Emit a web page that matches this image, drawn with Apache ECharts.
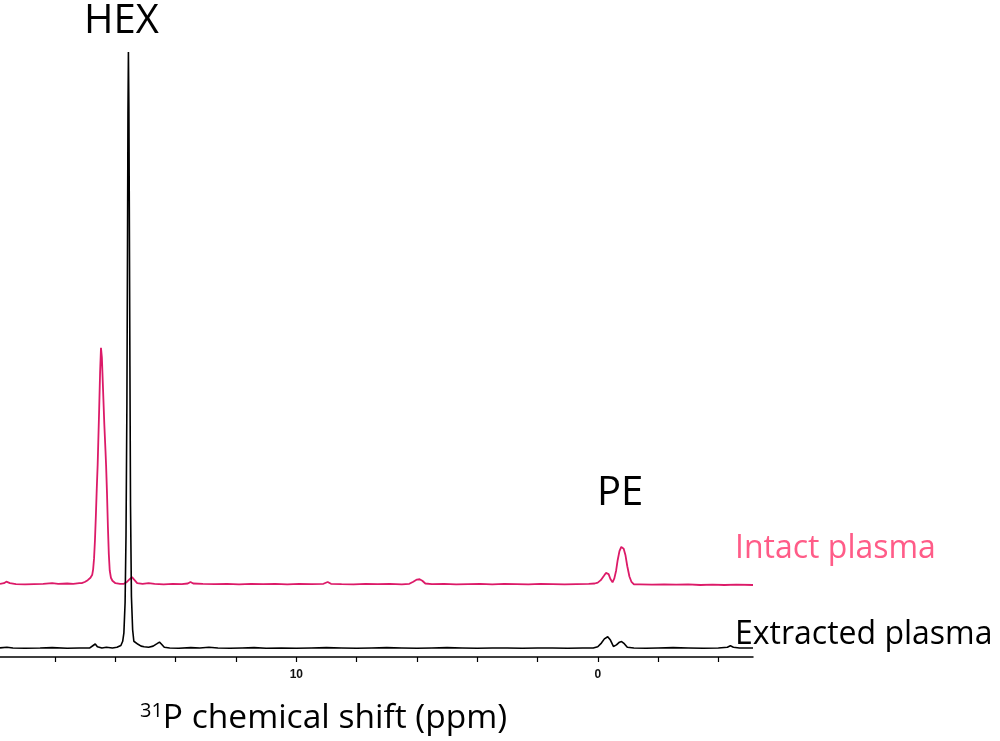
<!DOCTYPE html>
<html>
<head>
<meta charset="utf-8">
<script src="https://cdn.jsdelivr.net/npm/echarts@6/dist/echarts.min.js"></script>
<style>
html,body{margin:0;padding:0;background:#fff;}
#chart{width:1000px;height:741px;}
</style>
</head>
<body>
<div id="chart"></div>
<script>
// x = 31P chemical shift (ppm), y = intensity (arbitrary units, stacked display offset included)
const extractedPlasma = [
  [19.83,1.5],[19.6,1.6],[19.4,1.5],[19.0,1.45],[18.5,1.5],[18.1,1.55],[17.6,1.45],[17.2,1.5],
  [16.85,1.5],[16.74,1.9],[16.67,2.15],[16.6,1.7],[16.45,1.5],[16.3,1.6],[16.1,1.5],[15.95,1.6],
  [15.82,1.9],[15.76,2.6],[15.72,4],[15.68,9],[15.65,20],[15.62,42],[15.6,68],[15.585,90],
  [15.57,100],[15.555,91],[15.54,74],[15.52,48],[15.5,25],[15.47,10],[15.43,4.5],[15.39,2.6],
  [15.33,2.3],[15.25,2.1],[15.15,1.8],[15.05,1.7],[14.9,1.6],[14.75,1.8],[14.62,2.2],[14.54,2.45],
  [14.47,2.1],[14.38,1.6],[14.2,1.5],[13.9,1.45],[13.5,1.55],[13.2,1.5],[12.9,1.6],[12.6,1.5],
  [12.2,1.45],[11.8,1.5],[11.4,1.55],[11.0,1.45],[10.5,1.5],[10.0,1.45],[9.5,1.5],[9.0,1.55],
  [8.5,1.5],[8.0,1.45],[7.5,1.5],[7.0,1.55],[6.5,1.5],[6.0,1.45],[5.5,1.5],[5.0,1.55],
  [4.5,1.5],[4.0,1.45],[3.5,1.5],[3.0,1.5],[2.5,1.45],[2.0,1.5],[1.5,1.5],[1.0,1.45],
  [0.5,1.5],[0.15,1.5],[0.0,1.7],[-0.12,2.3],[-0.22,3.0],[-0.33,3.35],[-0.42,2.8],[-0.52,1.75],
  [-0.62,2.0],[-0.72,2.45],[-0.79,2.55],[-0.88,2.2],[-0.98,1.6],[-1.2,1.5],[-1.6,1.45],[-2.0,1.5],
  [-2.5,1.55],[-3.0,1.5],[-3.5,1.45],[-4.0,1.5],[-4.3,1.6],[-4.4,1.85],[-4.5,1.6],[-4.7,1.5],[-5.15,1.5]
];
const intactPlasma = [
  [19.83,12.1],[19.7,12.2],[19.62,12.45],[19.5,12.2],[19.3,12.05],[19.0,12.0],[18.7,12.05],[18.4,12.1],
  [18.1,12.2],[17.9,12.1],[17.6,12.15],[17.4,12.1],[17.2,12.2],[17.12,12.2],[17.02,12.4],[16.92,12.7],
  [16.83,13.1],[16.77,13.6],[16.74,14.5],[16.71,16.3],[16.68,19.3],[16.65,23.3],[16.62,27.8],[16.59,31.8],
  [16.57,35.5],[16.54,41],[16.51,47],[16.48,51.1],[16.45,49.5],[16.41,44],[16.37,38.5],[16.33,34],
  [16.31,31.6],[16.28,27],[16.25,21.5],[16.22,17],[16.19,14.3],[16.15,13.1],[16.1,12.6],[16.0,12.2],
  [15.85,12.1],[15.72,12.1],[15.62,12.4],[15.52,12.9],[15.45,13.2],[15.38,12.8],[15.28,12.2],[15.1,12.1],
  [14.9,12.2],[14.7,12.1],[14.4,12.0],[14.1,12.1],[13.8,12.05],[13.6,12.15],[13.51,12.4],[13.42,12.15],
  [13.1,12.1],[12.7,12.05],[12.3,12.1],[11.9,12.0],[11.5,12.1],[11.1,12.05],[10.7,12.1],[10.3,12.0],
  [9.9,12.1],[9.5,12.05],[9.1,12.1],[8.96,12.4],[8.85,12.1],[8.5,12.05],[8.1,12.0],[7.7,12.1],
  [7.3,12.05],[6.9,12.1],[6.5,12.0],[6.25,12.1],[6.12,12.45],[6.0,12.8],[5.91,12.85],[5.82,12.6],
  [5.72,12.15],[5.5,12.05],[5.1,12.1],[4.7,12.0],[4.3,12.05],[3.9,12.1],[3.5,12.0],[3.1,12.1],
  [2.7,12.05],[2.3,12.0],[1.9,12.1],[1.5,12.05],[1.1,12.0],[0.7,12.05],[0.3,12.1],[0.1,12.15],
  [0.0,12.3],[-0.1,12.7],[-0.2,13.4],[-0.27,13.9],[-0.31,14.0],[-0.36,13.7],[-0.42,12.9],[-0.49,12.35],
  [-0.55,13.0],[-0.61,14.3],[-0.66,16.0],[-0.72,17.5],[-0.78,18.2],[-0.81,18.23],[-0.86,17.9],[-0.92,16.8],
  [-0.98,15.0],[-1.05,13.3],[-1.12,12.4],[-1.2,12.0],[-1.4,12.0],[-1.8,11.95],[-2.2,12.0],[-2.6,11.95],
  [-3.0,12.0],[-3.4,11.9],[-3.8,11.95],[-4.2,11.9],[-4.6,11.95],[-5.15,11.9]
];
const xTickValues = [-4,-2,0,2,4,6,8,10,12,14,16,18];
const xLabelValues = [0,10];
const peakLabels = ['HEX','PE'];
const seriesNames = ['Intact plasma','Extracted plasma'];
const axisTitleSup = '31';
const axisTitleMain = 'P chemical shift (ppm)';

const chart = echarts.init(document.getElementById('chart'), null, {renderer:'canvas'});
const FONT = 'Open Sans';
chart.setOption({
  animation:false,
  backgroundColor:'#ffffff',
  grid:{left:0, right:247, top:52, bottom:84, containLabel:false},
  xAxis:{
    type:'value', inverse:true, min:-5.15, max:19.83,
    axisLine:{show:true, lineStyle:{color:'#000', width:1.5}},
    axisTick:{show:true, inside:false, length:5, lineStyle:{color:'#000', width:1.2}, customValues:xTickValues},
    axisLabel:{show:true, customValues:xLabelValues, color:'#111', fontSize:12, fontWeight:'bold', fontFamily:'Liberation Sans', margin:12},
    splitLine:{show:false}
  },
  yAxis:{type:'value', min:0, max:100, show:false, splitLine:{show:false}},
  series:[
    {name:seriesNames[0], type:'line', data:intactPlasma, showSymbol:false, smooth:false,
     lineStyle:{color:'#dc1a68', width:1.8}, itemStyle:{color:'#dc1a68'}},
    {name:seriesNames[1], type:'line', data:extractedPlasma, showSymbol:false, smooth:false,
     lineStyle:{color:'#000', width:1.6}, itemStyle:{color:'#000'}}
  ],
  graphic:[
    {type:'text', left:84, top:2, style:{text:peakLabels[0], font:'40px "'+FONT+'"', fill:'#000'}},
    {type:'text', left:597, top:474, style:{text:peakLabels[1], font:'40px "'+FONT+'"', fill:'#000'}},
    {type:'text', left:735, top:533, style:{text:seriesNames[0], font:'32px "'+FONT+'"', fill:'#ff5c88'}},
    {type:'text', left:735, top:619, style:{text:seriesNames[1], font:'32px "'+FONT+'"', fill:'#000'}},
    {type:'text', left:140, top:701, style:{
      text:'{s|'+axisTitleSup+'}{m|'+axisTitleMain+'}',
      rich:{
        s:{fontSize:20, fontFamily:FONT, fill:'#000', verticalAlign:'top', padding:[0,0,13,0]},
        m:{fontSize:33.5, fontFamily:FONT, fill:'#000'}
      }
    }}
  ]
});
</script>
</body>
</html>
